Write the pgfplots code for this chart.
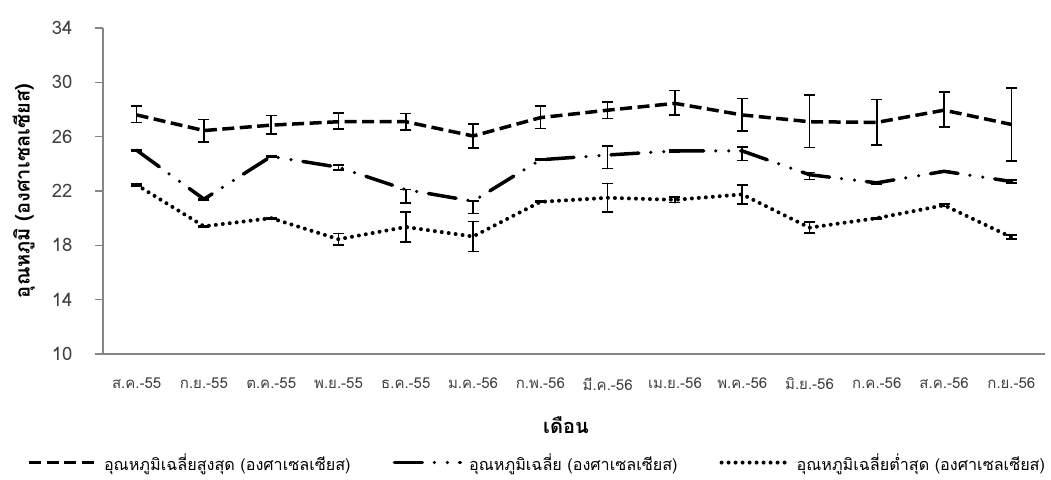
\documentclass[border=0pt]{standalone}
\usepackage{pgfplots}
\usepackage{pgfplotstable}
\pgfplotsset{compat=1.18}
\usepackage{fontspec}
\setmainfont[Script=Thai]{Loma}
\pgfplotstableread{
x y ep em
0 27.60 0.65 0.55
1 26.45 0.80 0.85
2 26.85 0.70 0.65
3 27.10 0.65 0.55
4 27.10 0.60 0.60
5 26.05 0.90 0.90
6 27.40 0.85 0.80
7 27.95 0.60 0.60
8 28.45 0.95 0.85
9 27.60 1.20 1.20
10 27.10 1.95 1.90
11 27.05 1.70 1.65
12 27.95 1.35 1.25
13 26.90 2.70 2.70
}\maxdata
\pgfplotstableread{
x y ep em
0 25.00 0.05 0.05
1 21.40 0.05 0.05
2 24.55 0.05 0.05
3 23.75 0.15 0.20
4 22.10 0.00 1.00
5 21.25 0.00 0.90
6 24.30 0.05 0.05
7 24.65 0.65 1.00
8 24.95 0.05 0.10
9 24.95 0.30 0.70
10 23.20 0.15 0.35
11 22.60 0.08 0.08
12 23.45 0.07 0.07
13 22.70 0.10 0.10
}\meandata
\pgfplotstableread{
x y ep em
0 22.45 0.08 0.08
1 19.40 0.05 0.05
2 20.00 0.05 0.05
3 18.45 0.43 0.43
4 19.35 1.10 1.10
5 18.65 1.10 1.10
6 21.20 0.05 0.05
7 21.50 1.05 1.05
8 21.35 0.20 0.20
9 21.75 0.70 0.70
10 19.30 0.40 0.40
11 20.00 0.05 0.05
12 20.95 0.10 0.10
13 18.60 0.15 0.15
}\mindata
\definecolor{axgray}{RGB}{134,134,134}
\definecolor{lblgray}{RGB}{64,64,64}
\begin{document}
\begin{tikzpicture}
\useasboundingbox (-103pt,-125pt) rectangle (948pt,354pt);
\begin{axis}[
  at={(0pt,0pt)}, anchor=south west,
  width=942pt, height=326pt, scale only axis,
  xmin=-0.5, xmax=13.5, ymin=10, ymax=34,
  axis x line*=bottom, axis y line*=left,
  axis line style={-, draw=axgray, line width=1.3pt},
  xtick={0,...,13},
  xticklabels={ส.ค.-55,ก.ย.-55,ต.ค.-55,พ.ย.-55,ธ.ค.-55,ม.ค.-56,ก.พ.-56,มี.ค.-56,เม.ย.-56,พ.ค.-56,มิ.ย.-56,ก.ค.-56,ส.ค.-56,ก.ย.-56},
  x tick style={draw=none},
  ytick={10,14,...,34},
  y tick style={draw=axgray, line width=1.3pt},
  tick align=outside, major tick length=8pt,
  ticklabel style={text=lblgray},
  xticklabel style={font=\fontsize{15}{18}\selectfont, yshift=-12pt},
  yticklabel style={font=\fontsize{18.5}{22}\selectfont, xshift=-19pt},
  /pgf/number format/assume math mode=true,
  xlabel={\textbf{เดือน}},
  ylabel={\textbf{อุณหภูมิ (องศาเซลเซียส)}},
  label style={font=\fontsize{20}{24}\selectfont},
  xlabel style={anchor=center, at={(axis description cs:0.4915,-0.218)}},
  ylabel style={anchor=center, at={(axis description cs:-0.084,0.5)}},
  error bars/y dir=both, error bars/y explicit,
  error bars/error bar style={black, line width=1.6pt, solid},
  error bars/error mark options={rotate=90, mark size=5.5pt, line width=1.6pt, solid},
  legend columns=3,
  legend style={at={(0.461,-0.333)}, anchor=center, draw=none, fill=none,
    font=\fontsize{16.2}{19}\selectfont, inner sep=0pt, outer sep=0pt,
    /tikz/every odd column/.append style={column sep=5pt},
    /tikz/every even column/.append style={column sep=40pt}},
  legend image code/.code={\draw[#1] (0pt,0pt) -- (66pt,0pt);},
]
\addplot[black, line width=3.5pt, dash pattern=on 12pt off 5.5pt]
  table[x=x, y=y, y error plus=ep, y error minus=em] {\maxdata};
\addlegendentry{อุณหภูมิเฉลี่ยสูงสุด (องศาเซลเซียส)}
\addplot[black, line width=3.5pt, line cap=round, dash pattern=on 28pt off 12pt on 0pt off 13pt on 0pt off 12pt]
  table[x=x, y=y, y error plus=ep, y error minus=em] {\meandata};
\addlegendentry{อุณหภูมิเฉลี่ย (องศาเซลเซียส)}
\addplot[black, line width=4pt, line cap=round, dash pattern=on 0pt off 7pt]
  table[x=x, y=y, y error plus=ep, y error minus=em] {\mindata};
\addlegendentry{อุณหภูมิเฉลี่ยต่ำสุด (องศาเซลเซียส)}
\end{axis}
\end{tikzpicture}
\end{document}
